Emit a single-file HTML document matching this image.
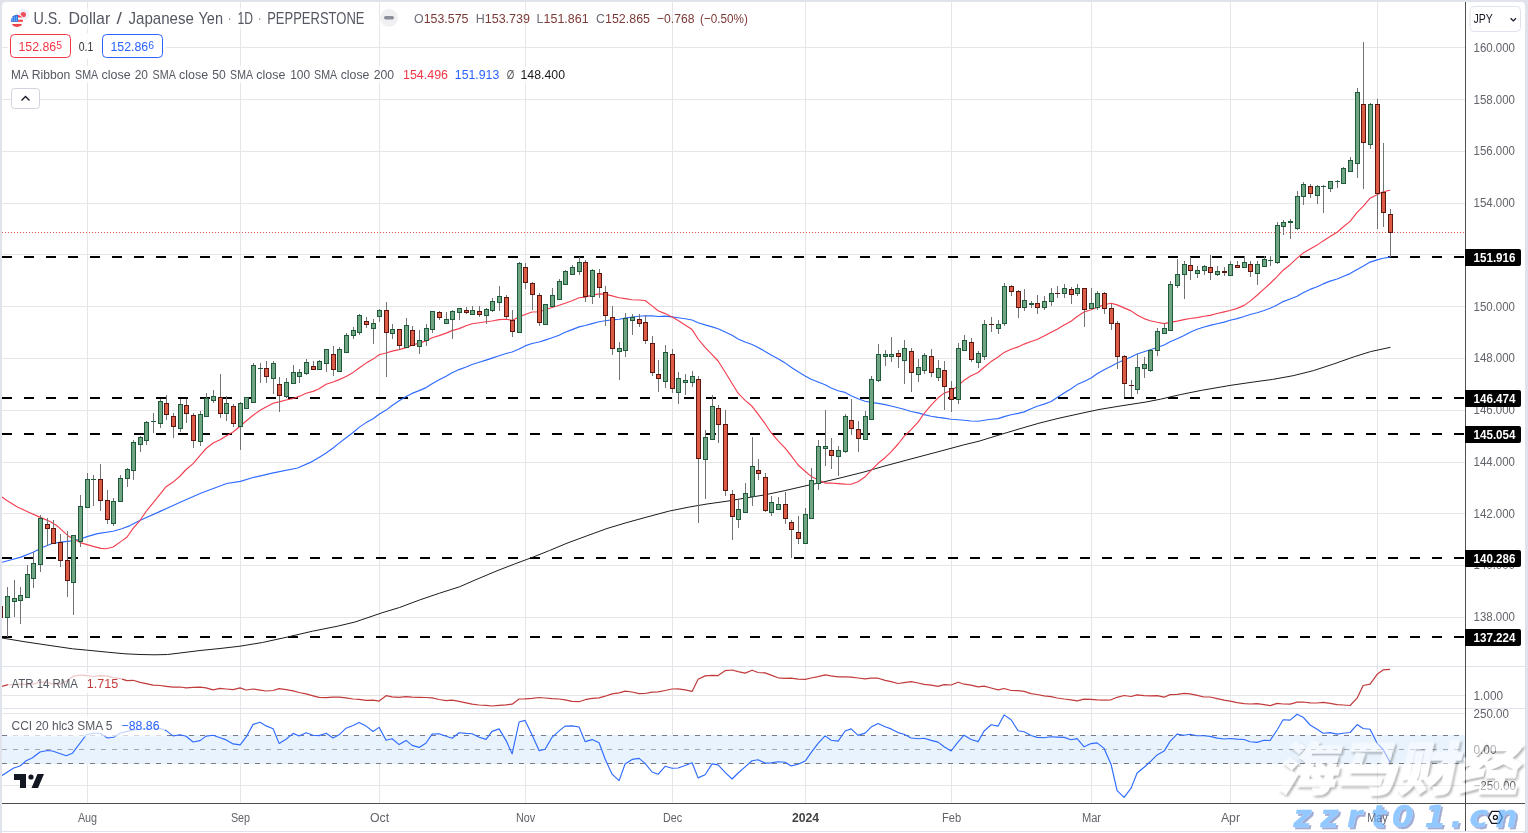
<!DOCTYPE html>
<html lang="en"><head><meta charset="utf-8"><title>USDJPY 1D chart</title>
<style>
html,body{margin:0;padding:0;background:#e0e3eb;}
body{width:1528px;height:833px;overflow:hidden;font-family:"Liberation Sans","Noto Sans CJK SC",sans-serif;}
svg{display:block;}
</style></head><body>
<svg width="1528" height="833" viewBox="0 0 1528 833" font-family="'Liberation Sans', sans-serif">
<defs><clipPath id="cp"><rect x="2" y="2" width="1463" height="801"/></clipPath><clipPath id="cm"><rect x="2" y="2" width="1463" height="664"/></clipPath><filter id="ws" x="-5%" y="-10%" width="115%" height="130%" color-interpolation-filters="sRGB"><feGaussianBlur in="SourceAlpha" stdDeviation="0.8"/><feOffset dx="1.7" dy="1.7" result="sh"/><feComposite in="sh" in2="SourceAlpha" operator="out" result="sho"/><feFlood flood-color="#303030" flood-opacity="0.36"/><feComposite in2="sho" operator="in" result="shc"/><feFlood flood-color="#fff" flood-opacity="0.5"/><feComposite in2="SourceAlpha" operator="in" result="fc"/><feMerge><feMergeNode in="shc"/><feMergeNode in="fc"/></feMerge></filter><filter id="ws2" x="-5%" y="-10%" width="115%" height="130%" color-interpolation-filters="sRGB"><feGaussianBlur in="SourceAlpha" stdDeviation="0.5"/><feOffset dx="1.6" dy="1.6" result="sh"/><feComposite in="sh" in2="SourceAlpha" operator="out" result="sho"/><feFlood flood-color="#5566b0" flood-opacity="0.55"/><feComposite in2="sho" operator="in" result="shc"/><feFlood flood-color="#5cadff" flood-opacity="0.68"/><feComposite in2="SourceAlpha" operator="in" result="fc"/><feMerge><feMergeNode in="shc"/><feMergeNode in="fc"/></feMerge></filter></defs>
<rect width="1528" height="833" fill="#e0e3eb"/>
<path d="M2 831V6a4 4 0 0 1 4 -4H1521a4 4 0 0 1 4 4V831z" fill="#fff"/>
<path d="M2 832h1520.5a2.5 2.5 0 0 0 2 1H2z" fill="#fff"/>
<g><rect x="87" y="2" width="1" height="801" fill="#e6e6e6"/><rect x="240" y="2" width="1" height="801" fill="#e6e6e6"/><rect x="379" y="2" width="1" height="801" fill="#e6e6e6"/><rect x="525" y="2" width="1" height="801" fill="#e6e6e6"/><rect x="672" y="2" width="1" height="801" fill="#e6e6e6"/><rect x="805" y="2" width="1" height="801" fill="#e6e6e6"/><rect x="951" y="2" width="1" height="801" fill="#e6e6e6"/><rect x="1091" y="2" width="1" height="801" fill="#e6e6e6"/><rect x="1230" y="2" width="1" height="801" fill="#e6e6e6"/><rect x="1377" y="2" width="1" height="801" fill="#e6e6e6"/><rect x="2" y="617" width="1463" height="1" fill="#e6e6e6"/><rect x="2" y="565" width="1463" height="1" fill="#e6e6e6"/><rect x="2" y="513" width="1463" height="1" fill="#e6e6e6"/><rect x="2" y="462" width="1463" height="1" fill="#e6e6e6"/><rect x="2" y="410" width="1463" height="1" fill="#e6e6e6"/><rect x="2" y="358" width="1463" height="1" fill="#e6e6e6"/><rect x="2" y="306" width="1463" height="1" fill="#e6e6e6"/><rect x="2" y="254" width="1463" height="1" fill="#e6e6e6"/><rect x="2" y="203" width="1463" height="1" fill="#e6e6e6"/><rect x="2" y="151" width="1463" height="1" fill="#e6e6e6"/><rect x="2" y="99" width="1463" height="1" fill="#e6e6e6"/><rect x="2" y="47" width="1463" height="1" fill="#e6e6e6"/><rect x="2" y="695" width="1463" height="1" fill="#e6e6e6"/><rect x="2" y="713" width="1463" height="1" fill="#e6e6e6"/><rect x="2" y="785" width="1463" height="1" fill="#e6e6e6"/></g>
<rect x="2" y="666" width="1523" height="1" fill="#e0e3eb"/>
<rect x="2" y="708" width="1523" height="1" fill="#e0e3eb"/>
<rect x="2" y="735" width="1463" height="29" fill="#e8f3fe"/>
<line x1="2" y1="735.5" x2="1465" y2="735.5" stroke="#787b86" stroke-width="1" stroke-dasharray="5 6" stroke-dashoffset="0"/>
<line x1="2" y1="749.5" x2="1465" y2="749.5" stroke="#a4a7af" stroke-width="1" stroke-dasharray="5 6" stroke-dashoffset="0"/>
<line x1="2" y1="763.5" x2="1465" y2="763.5" stroke="#787b86" stroke-width="1" stroke-dasharray="5 6" stroke-dashoffset="0"/>
<line x1="2" y1="257" x2="1465" y2="257" stroke="#000" stroke-width="2" stroke-dasharray="10 12"/>
<line x1="2" y1="398" x2="1465" y2="398" stroke="#000" stroke-width="2" stroke-dasharray="10 12"/>
<line x1="2" y1="434" x2="1465" y2="434" stroke="#000" stroke-width="2" stroke-dasharray="10 12"/>
<line x1="2" y1="558" x2="1465" y2="558" stroke="#000" stroke-width="2" stroke-dasharray="10 12"/>
<line x1="2" y1="637" x2="1465" y2="637" stroke="#000" stroke-width="2" stroke-dasharray="10 12"/>
<line x1="2" y1="232.5" x2="1465" y2="232.5" stroke="#e0574a" stroke-width="1" stroke-dasharray="1 2"/>
<polyline points="2.0,638.0 25.0,641.8 50.0,645.5 72.5,648.8 87.5,650.2 107.5,652.2 125.0,653.8 140.0,654.5 155.0,654.8 167.5,654.5 180.0,653.0 200.0,650.5 220.0,648.5 240.0,646.2 262.5,642.5 287.5,637.0 312.5,631.2 337.5,626.2 355.0,622.0 382.0,612.8 399.5,607.5 419.5,600.0 439.5,593.2 459.5,586.8 477.0,579.2 497.0,570.8 514.5,564.0 532.0,557.5 549.5,550.5 567.0,543.2 587.0,535.8 607.0,528.5 627.0,522.5 647.0,517.0 669.5,511.0 689.5,507.0 707.0,504.0 727.0,501.2 744.5,498.2 764.0,495.0 784.0,490.8 804.0,486.2 824.0,481.8 844.0,477.0 864.0,472.0 884.0,466.2 904.0,460.8 924.0,455.5 944.0,450.2 964.0,444.8 979.0,441.2 999.0,435.0 1019.0,429.0 1039.0,423.2 1059.0,418.2 1079.0,413.8 1099.0,409.5 1119.0,406.2 1146.0,402.0 1160.4,399.2 1180.8,394.5 1201.2,390.4 1230.8,385.3 1252.2,382.2 1272.7,379.4 1293.1,375.7 1313.5,370.6 1333.9,363.9 1354.3,356.7 1370.6,351.6 1390.5,347.3" fill="none" stroke="#1c1c1c" stroke-width="1.0" stroke-linejoin="round" stroke-linecap="butt" clip-path="url(#cm)" />
<polyline points="2.0,562.3 10.4,560.0 20.9,557.1 33.1,552.2 43.5,547.0 52.2,543.5 60.9,542.1 71.4,540.9 80.2,539.2 87.0,536.6 97.5,533.6 113.1,531.3 121.8,528.7 130.0,525.6 140.8,520.0 160.2,511.4 179.7,502.4 200.7,493.2 226.7,483.5 240.4,481.4 252.2,477.8 273.3,472.9 297.6,468.0 312.1,461.6 320.2,456.7 326.1,453.0 333.1,448.0 339.1,443.1 346.1,437.8 353.1,432.5 359.1,427.4 366.1,422.6 373.1,418.7 379.1,414.3 386.1,410.1 392.1,405.5 399.1,400.8 406.1,396.6 412.1,393.4 419.1,390.6 426.1,387.6 432.1,383.8 439.1,379.8 446.1,376.2 452.1,372.8 459.1,369.6 466.1,367.0 472.1,364.5 479.1,362.3 486.1,360.1 492.1,358.1 499.1,355.7 506.1,353.5 512.1,352.0 519.1,349.0 525.1,345.9 532.1,343.5 539.1,342.0 545.1,340.1 552.1,337.8 559.1,335.3 565.1,332.3 572.1,329.6 579.1,326.9 585.1,325.5 592.1,323.6 599.1,321.8 605.1,320.8 612.1,319.9 619.1,319.2 625.1,318.1 632.1,317.0 639.1,316.2 645.1,315.7 652.1,315.9 658.1,316.5 665.1,316.1 672.1,316.9 678.1,317.8 685.1,318.8 692.1,320.0 698.1,322.7 705.1,324.9 712.1,326.9 718.1,328.7 725.1,331.9 732.1,335.3 738.1,339.0 745.1,342.0 752.1,344.5 758.1,347.4 765.1,351.4 771.1,355.1 778.1,358.8 785.1,362.9 791.1,367.3 798.1,371.8 805.1,375.9 811.1,379.2 818.1,382.0 825.1,384.8 831.1,388.0 838.1,390.7 845.1,392.4 851.1,395.7 858.1,398.8 865.1,401.3 871.1,402.4 878.1,403.4 885.1,404.6 891.1,406.0 898.1,407.7 904.1,409.3 911.1,411.5 918.1,412.9 924.1,414.6 931.1,416.3 938.1,417.4 944.1,418.1 951.1,419.2 958.1,419.8 964.1,420.2 971.1,421.0 978.1,421.2 984.1,420.3 991.1,419.2 998.1,418.6 1004.1,416.6 1011.1,414.8 1018.1,413.4 1024.1,411.9 1031.1,408.8 1037.1,406.2 1044.1,404.1 1051.1,401.5 1057.1,397.5 1064.1,393.0 1071.1,388.7 1077.1,384.6 1084.1,381.4 1091.1,378.0 1097.1,373.7 1104.1,369.8 1111.1,366.2 1117.1,363.0 1124.1,360.0 1131.1,357.0 1137.1,354.0 1144.1,351.7 1150.1,349.8 1157.1,347.5 1164.1,345.0 1170.1,341.7 1177.1,338.8 1184.1,335.6 1190.1,332.2 1197.1,329.3 1204.1,327.0 1210.1,325.4 1217.1,323.7 1224.1,322.1 1230.1,320.3 1237.1,318.6 1244.1,316.5 1250.1,314.5 1257.1,312.7 1264.1,310.5 1270.1,308.3 1277.1,305.1 1283.1,301.6 1290.1,299.0 1297.1,296.2 1303.1,292.7 1310.1,289.4 1317.1,286.7 1323.1,283.9 1330.1,281.1 1337.1,279.0 1343.1,276.5 1350.1,273.6 1357.1,269.4 1363.1,266.2 1370.1,262.1 1377.1,259.9 1383.1,258.3 1390.1,257.1" fill="none" stroke="#2f6bff" stroke-width="1.15" stroke-linejoin="round" stroke-linecap="butt" clip-path="url(#cm)" />
<polyline points="2.0,497.0 6.1,500.0 17.4,507.0 28.7,512.2 40.4,517.4 50.5,521.8 57.4,526.1 67.9,535.7 80.2,542.6 92.3,546.1 101.0,548.4 106.2,548.7 113.1,547.0 121.8,540.9 127.1,537.0 133.1,528.3 140.1,520.3 146.1,511.5 153.1,502.8 160.1,494.2 166.1,486.7 173.1,482.1 180.1,476.0 186.1,469.5 193.1,463.6 200.1,455.3 206.1,448.5 213.1,443.0 220.1,439.7 226.1,435.9 233.1,432.0 240.1,426.2 246.1,421.0 253.1,415.3 260.1,410.3 266.1,407.0 273.1,403.3 279.1,401.9 286.1,400.0 293.1,398.5 299.1,396.4 306.1,393.2 313.1,391.4 319.1,388.8 326.1,384.3 333.1,382.0 339.1,379.6 346.1,376.5 353.1,372.4 359.1,368.0 366.1,363.1 373.1,359.1 379.1,354.7 386.1,353.0 392.1,351.1 399.1,349.6 406.1,347.6 412.1,345.1 419.1,343.1 426.1,340.9 432.1,337.8 439.1,335.6 446.1,333.1 452.1,330.6 459.1,328.6 466.1,325.7 472.1,323.8 479.1,322.7 486.1,321.7 492.1,321.0 499.1,319.6 506.1,319.2 512.1,320.3 519.1,316.9 525.1,314.5 532.1,312.0 539.1,311.8 545.1,309.8 552.1,307.5 559.1,305.2 565.1,303.2 572.1,300.7 579.1,297.8 585.1,297.1 592.1,295.1 599.1,293.9 605.1,294.1 612.1,295.9 619.1,297.8 625.1,298.6 632.1,299.7 639.1,300.0 645.1,300.5 652.1,305.9 658.1,310.7 665.1,313.6 672.1,316.9 678.1,320.6 685.1,324.9 692.1,329.6 698.1,339.0 705.1,347.4 712.1,354.6 718.1,361.0 725.1,372.0 732.1,383.5 738.1,393.2 745.1,400.4 752.1,406.3 758.1,414.1 765.1,423.7 771.1,432.7 778.1,440.9 785.1,448.1 791.1,455.7 798.1,465.0 805.1,471.3 811.1,476.4 818.1,479.7 825.1,483.1 831.1,483.0 838.1,483.6 845.1,484.1 851.1,484.3 858.1,481.7 865.1,476.8 871.1,470.3 878.1,463.3 885.1,457.7 891.1,451.8 898.1,444.0 904.1,436.4 911.1,429.7 918.1,422.2 924.1,413.5 931.1,405.1 938.1,397.8 944.1,393.1 951.1,390.8 958.1,385.9 964.1,380.2 971.1,375.7 978.1,372.5 984.1,367.3 991.1,361.6 998.1,357.0 1004.1,352.4 1011.1,349.2 1018.1,346.9 1024.1,344.1 1031.1,341.5 1037.1,339.5 1044.1,336.0 1051.1,332.3 1057.1,329.2 1064.1,325.0 1071.1,321.3 1077.1,316.5 1084.1,312.0 1091.1,309.7 1097.1,307.4 1104.1,304.8 1111.1,303.3 1117.1,304.9 1124.1,307.9 1131.1,310.9 1137.1,315.0 1144.1,318.6 1150.1,320.8 1157.1,322.3 1164.1,323.6 1170.1,322.4 1177.1,321.1 1184.1,319.6 1190.1,318.5 1197.1,317.6 1204.1,316.2 1210.1,315.4 1217.1,313.5 1224.1,311.9 1230.1,310.5 1237.1,308.4 1244.1,305.4 1250.1,301.1 1257.1,295.2 1264.1,288.9 1270.1,283.5 1277.1,276.6 1283.1,270.2 1290.1,264.7 1297.1,258.1 1303.1,253.1 1310.1,249.0 1317.1,245.1 1323.1,240.9 1330.1,236.5 1337.1,232.2 1343.1,227.0 1350.1,221.4 1357.1,212.4 1363.1,206.3 1370.1,198.2 1377.1,194.7 1383.1,191.8 1390.1,190.2" fill="none" stroke="#f23f50" stroke-width="1.15" stroke-linejoin="round" stroke-linecap="butt" clip-path="url(#cm)" />
<g clip-path="url(#cm)" shape-rendering="crispEdges"><rect x="0" y="606" width="1" height="12" fill="#737373"/><rect x="-2" y="606" width="5" height="12" fill="#5a1712"/><rect x="-1" y="607" width="3" height="10" fill="#dc5b45"/><rect x="7" y="587" width="1" height="50" fill="#737373"/><rect x="5" y="596" width="5" height="22" fill="#1f5a3a"/><rect x="6" y="597" width="3" height="20" fill="#6fa583"/><rect x="14" y="580" width="1" height="37" fill="#737373"/><rect x="12" y="598" width="5" height="4" fill="#1f5a3a"/><rect x="13" y="599" width="3" height="2" fill="#6fa583"/><rect x="20" y="587" width="1" height="37" fill="#737373"/><rect x="18" y="595" width="5" height="6" fill="#1f5a3a"/><rect x="19" y="596" width="3" height="4" fill="#6fa583"/><rect x="27" y="565" width="1" height="33" fill="#737373"/><rect x="25" y="574" width="5" height="24" fill="#1f5a3a"/><rect x="26" y="575" width="3" height="22" fill="#6fa583"/><rect x="33" y="552" width="1" height="36" fill="#737373"/><rect x="31" y="563" width="5" height="16" fill="#1f5a3a"/><rect x="32" y="564" width="3" height="14" fill="#6fa583"/><rect x="40" y="515" width="1" height="57" fill="#737373"/><rect x="38" y="518" width="5" height="47" fill="#1f5a3a"/><rect x="39" y="519" width="3" height="45" fill="#6fa583"/><rect x="47" y="518" width="1" height="28" fill="#737373"/><rect x="45" y="524" width="5" height="5" fill="#5a1712"/><rect x="46" y="525" width="3" height="3" fill="#dc5b45"/><rect x="53" y="520" width="1" height="24" fill="#737373"/><rect x="51" y="528" width="5" height="16" fill="#5a1712"/><rect x="52" y="529" width="3" height="14" fill="#dc5b45"/><rect x="60" y="534" width="1" height="33" fill="#737373"/><rect x="58" y="542" width="5" height="19" fill="#5a1712"/><rect x="59" y="543" width="3" height="17" fill="#dc5b45"/><rect x="67" y="531" width="1" height="66" fill="#737373"/><rect x="65" y="560" width="5" height="21" fill="#5a1712"/><rect x="66" y="561" width="3" height="19" fill="#dc5b45"/><rect x="73" y="535" width="1" height="80" fill="#737373"/><rect x="71" y="535" width="5" height="48" fill="#1f5a3a"/><rect x="72" y="536" width="3" height="46" fill="#6fa583"/><rect x="80" y="495" width="1" height="52" fill="#737373"/><rect x="78" y="506" width="5" height="36" fill="#1f5a3a"/><rect x="79" y="507" width="3" height="34" fill="#6fa583"/><rect x="87" y="473" width="1" height="35" fill="#737373"/><rect x="85" y="479" width="5" height="29" fill="#1f5a3a"/><rect x="86" y="480" width="3" height="27" fill="#6fa583"/><rect x="93" y="475" width="1" height="31" fill="#737373"/><rect x="91" y="479" width="5" height="1" fill="#1f5a3a"/><rect x="100" y="464" width="1" height="47" fill="#737373"/><rect x="98" y="479" width="5" height="22" fill="#5a1712"/><rect x="99" y="480" width="3" height="20" fill="#dc5b45"/><rect x="107" y="490" width="1" height="34" fill="#737373"/><rect x="105" y="500" width="5" height="20" fill="#5a1712"/><rect x="106" y="501" width="3" height="18" fill="#dc5b45"/><rect x="113" y="498" width="1" height="28" fill="#737373"/><rect x="111" y="501" width="5" height="23" fill="#1f5a3a"/><rect x="112" y="502" width="3" height="21" fill="#6fa583"/><rect x="120" y="475" width="1" height="27" fill="#737373"/><rect x="118" y="478" width="5" height="24" fill="#1f5a3a"/><rect x="119" y="479" width="3" height="22" fill="#6fa583"/><rect x="127" y="468" width="1" height="19" fill="#737373"/><rect x="125" y="469" width="5" height="10" fill="#1f5a3a"/><rect x="126" y="470" width="3" height="8" fill="#6fa583"/><rect x="133" y="440" width="1" height="40" fill="#737373"/><rect x="131" y="442" width="5" height="29" fill="#1f5a3a"/><rect x="132" y="443" width="3" height="27" fill="#6fa583"/><rect x="140" y="436" width="1" height="16" fill="#737373"/><rect x="138" y="437" width="5" height="8" fill="#1f5a3a"/><rect x="139" y="438" width="3" height="6" fill="#6fa583"/><rect x="146" y="421" width="1" height="24" fill="#737373"/><rect x="144" y="422" width="5" height="19" fill="#1f5a3a"/><rect x="145" y="423" width="3" height="17" fill="#6fa583"/><rect x="153" y="413" width="1" height="20" fill="#737373"/><rect x="151" y="421" width="5" height="1" fill="#1f5a3a"/><rect x="160" y="399" width="1" height="29" fill="#737373"/><rect x="158" y="401" width="5" height="23" fill="#1f5a3a"/><rect x="159" y="402" width="3" height="21" fill="#6fa583"/><rect x="166" y="395" width="1" height="25" fill="#737373"/><rect x="164" y="403" width="5" height="12" fill="#5a1712"/><rect x="165" y="404" width="3" height="10" fill="#dc5b45"/><rect x="173" y="413" width="1" height="25" fill="#737373"/><rect x="171" y="416" width="5" height="11" fill="#5a1712"/><rect x="172" y="417" width="3" height="9" fill="#dc5b45"/><rect x="180" y="399" width="1" height="33" fill="#737373"/><rect x="178" y="404" width="5" height="25" fill="#1f5a3a"/><rect x="179" y="405" width="3" height="23" fill="#6fa583"/><rect x="186" y="399" width="1" height="24" fill="#737373"/><rect x="184" y="405" width="5" height="9" fill="#5a1712"/><rect x="185" y="406" width="3" height="7" fill="#dc5b45"/><rect x="193" y="413" width="1" height="35" fill="#737373"/><rect x="191" y="415" width="5" height="26" fill="#5a1712"/><rect x="192" y="416" width="3" height="24" fill="#dc5b45"/><rect x="200" y="411" width="1" height="35" fill="#737373"/><rect x="198" y="414" width="5" height="28" fill="#1f5a3a"/><rect x="199" y="415" width="3" height="26" fill="#6fa583"/><rect x="206" y="393" width="1" height="24" fill="#737373"/><rect x="204" y="398" width="5" height="19" fill="#1f5a3a"/><rect x="205" y="399" width="3" height="17" fill="#6fa583"/><rect x="213" y="390" width="1" height="13" fill="#737373"/><rect x="211" y="396" width="5" height="5" fill="#1f5a3a"/><rect x="212" y="397" width="3" height="3" fill="#6fa583"/><rect x="220" y="374" width="1" height="44" fill="#737373"/><rect x="218" y="397" width="5" height="17" fill="#5a1712"/><rect x="219" y="398" width="3" height="15" fill="#dc5b45"/><rect x="226" y="396" width="1" height="25" fill="#737373"/><rect x="224" y="403" width="5" height="11" fill="#1f5a3a"/><rect x="225" y="404" width="3" height="9" fill="#6fa583"/><rect x="233" y="404" width="1" height="23" fill="#737373"/><rect x="231" y="406" width="5" height="18" fill="#5a1712"/><rect x="232" y="407" width="3" height="16" fill="#dc5b45"/><rect x="240" y="402" width="1" height="48" fill="#737373"/><rect x="238" y="403" width="5" height="24" fill="#1f5a3a"/><rect x="239" y="404" width="3" height="22" fill="#6fa583"/><rect x="246" y="397" width="1" height="12" fill="#737373"/><rect x="244" y="397" width="5" height="12" fill="#1f5a3a"/><rect x="245" y="398" width="3" height="10" fill="#6fa583"/><rect x="253" y="363" width="1" height="40" fill="#737373"/><rect x="251" y="365" width="5" height="38" fill="#1f5a3a"/><rect x="252" y="366" width="3" height="36" fill="#6fa583"/><rect x="260" y="363" width="1" height="20" fill="#737373"/><rect x="258" y="368" width="5" height="1" fill="#1f5a3a"/><rect x="266" y="361" width="1" height="22" fill="#737373"/><rect x="264" y="368" width="5" height="9" fill="#5a1712"/><rect x="265" y="369" width="3" height="7" fill="#dc5b45"/><rect x="273" y="361" width="1" height="33" fill="#737373"/><rect x="271" y="363" width="5" height="16" fill="#1f5a3a"/><rect x="272" y="364" width="3" height="14" fill="#6fa583"/><rect x="279" y="377" width="1" height="35" fill="#737373"/><rect x="277" y="384" width="5" height="12" fill="#5a1712"/><rect x="278" y="385" width="3" height="10" fill="#dc5b45"/><rect x="286" y="378" width="1" height="20" fill="#737373"/><rect x="284" y="382" width="5" height="15" fill="#1f5a3a"/><rect x="285" y="383" width="3" height="13" fill="#6fa583"/><rect x="293" y="365" width="1" height="19" fill="#737373"/><rect x="291" y="372" width="5" height="12" fill="#1f5a3a"/><rect x="292" y="373" width="3" height="10" fill="#6fa583"/><rect x="299" y="369" width="1" height="14" fill="#737373"/><rect x="297" y="372" width="5" height="5" fill="#1f5a3a"/><rect x="298" y="373" width="3" height="3" fill="#6fa583"/><rect x="306" y="359" width="1" height="16" fill="#737373"/><rect x="304" y="362" width="5" height="12" fill="#1f5a3a"/><rect x="305" y="363" width="3" height="10" fill="#6fa583"/><rect x="313" y="361" width="1" height="9" fill="#737373"/><rect x="311" y="366" width="5" height="4" fill="#5a1712"/><rect x="312" y="367" width="3" height="2" fill="#dc5b45"/><rect x="319" y="360" width="1" height="10" fill="#737373"/><rect x="317" y="361" width="5" height="9" fill="#1f5a3a"/><rect x="318" y="362" width="3" height="7" fill="#6fa583"/><rect x="326" y="349" width="1" height="23" fill="#737373"/><rect x="324" y="349" width="5" height="15" fill="#1f5a3a"/><rect x="325" y="350" width="3" height="13" fill="#6fa583"/><rect x="333" y="346" width="1" height="30" fill="#737373"/><rect x="331" y="354" width="5" height="16" fill="#5a1712"/><rect x="332" y="355" width="3" height="14" fill="#dc5b45"/><rect x="339" y="347" width="1" height="25" fill="#737373"/><rect x="337" y="349" width="5" height="23" fill="#1f5a3a"/><rect x="338" y="350" width="3" height="21" fill="#6fa583"/><rect x="346" y="333" width="1" height="20" fill="#737373"/><rect x="344" y="335" width="5" height="18" fill="#1f5a3a"/><rect x="345" y="336" width="3" height="16" fill="#6fa583"/><rect x="353" y="327" width="1" height="12" fill="#737373"/><rect x="351" y="330" width="5" height="6" fill="#1f5a3a"/><rect x="352" y="331" width="3" height="4" fill="#6fa583"/><rect x="359" y="314" width="1" height="21" fill="#737373"/><rect x="357" y="315" width="5" height="18" fill="#1f5a3a"/><rect x="358" y="316" width="3" height="16" fill="#6fa583"/><rect x="366" y="317" width="1" height="11" fill="#737373"/><rect x="364" y="321" width="5" height="4" fill="#5a1712"/><rect x="365" y="322" width="3" height="2" fill="#dc5b45"/><rect x="373" y="319" width="1" height="25" fill="#737373"/><rect x="371" y="323" width="5" height="6" fill="#1f5a3a"/><rect x="372" y="324" width="3" height="4" fill="#6fa583"/><rect x="379" y="309" width="1" height="13" fill="#737373"/><rect x="377" y="310" width="5" height="7" fill="#1f5a3a"/><rect x="378" y="311" width="3" height="5" fill="#6fa583"/><rect x="386" y="302" width="1" height="75" fill="#737373"/><rect x="384" y="310" width="5" height="23" fill="#5a1712"/><rect x="385" y="311" width="3" height="21" fill="#dc5b45"/><rect x="392" y="324" width="1" height="15" fill="#737373"/><rect x="390" y="329" width="5" height="5" fill="#1f5a3a"/><rect x="391" y="330" width="3" height="3" fill="#6fa583"/><rect x="399" y="329" width="1" height="21" fill="#737373"/><rect x="397" y="329" width="5" height="17" fill="#5a1712"/><rect x="398" y="330" width="3" height="15" fill="#dc5b45"/><rect x="406" y="318" width="1" height="30" fill="#737373"/><rect x="404" y="325" width="5" height="23" fill="#1f5a3a"/><rect x="405" y="326" width="3" height="21" fill="#6fa583"/><rect x="412" y="326" width="1" height="20" fill="#737373"/><rect x="410" y="330" width="5" height="16" fill="#5a1712"/><rect x="411" y="331" width="3" height="14" fill="#dc5b45"/><rect x="419" y="330" width="1" height="24" fill="#737373"/><rect x="417" y="340" width="5" height="7" fill="#1f5a3a"/><rect x="418" y="341" width="3" height="5" fill="#6fa583"/><rect x="426" y="324" width="1" height="22" fill="#737373"/><rect x="424" y="328" width="5" height="13" fill="#1f5a3a"/><rect x="425" y="329" width="3" height="11" fill="#6fa583"/><rect x="432" y="311" width="1" height="22" fill="#737373"/><rect x="430" y="311" width="5" height="19" fill="#1f5a3a"/><rect x="431" y="312" width="3" height="17" fill="#6fa583"/><rect x="439" y="311" width="1" height="9" fill="#737373"/><rect x="437" y="312" width="5" height="6" fill="#5a1712"/><rect x="438" y="313" width="3" height="4" fill="#dc5b45"/><rect x="446" y="312" width="1" height="12" fill="#737373"/><rect x="444" y="319" width="5" height="5" fill="#1f5a3a"/><rect x="445" y="320" width="3" height="3" fill="#6fa583"/><rect x="452" y="310" width="1" height="29" fill="#737373"/><rect x="450" y="311" width="5" height="9" fill="#1f5a3a"/><rect x="451" y="312" width="3" height="7" fill="#6fa583"/><rect x="459" y="308" width="1" height="12" fill="#737373"/><rect x="457" y="308" width="5" height="5" fill="#1f5a3a"/><rect x="458" y="309" width="3" height="3" fill="#6fa583"/><rect x="466" y="307" width="1" height="7" fill="#737373"/><rect x="464" y="310" width="5" height="3" fill="#5a1712"/><rect x="465" y="311" width="3" height="1" fill="#dc5b45"/><rect x="472" y="306" width="1" height="9" fill="#737373"/><rect x="470" y="310" width="5" height="5" fill="#1f5a3a"/><rect x="471" y="311" width="3" height="3" fill="#6fa583"/><rect x="479" y="306" width="1" height="11" fill="#737373"/><rect x="477" y="311" width="5" height="4" fill="#5a1712"/><rect x="478" y="312" width="3" height="2" fill="#dc5b45"/><rect x="486" y="308" width="1" height="16" fill="#737373"/><rect x="484" y="309" width="5" height="7" fill="#1f5a3a"/><rect x="485" y="310" width="3" height="5" fill="#6fa583"/><rect x="492" y="298" width="1" height="14" fill="#737373"/><rect x="490" y="301" width="5" height="10" fill="#1f5a3a"/><rect x="491" y="302" width="3" height="8" fill="#6fa583"/><rect x="499" y="286" width="1" height="25" fill="#737373"/><rect x="497" y="296" width="5" height="7" fill="#1f5a3a"/><rect x="498" y="297" width="3" height="5" fill="#6fa583"/><rect x="506" y="295" width="1" height="24" fill="#737373"/><rect x="504" y="297" width="5" height="20" fill="#5a1712"/><rect x="505" y="298" width="3" height="18" fill="#dc5b45"/><rect x="512" y="310" width="1" height="27" fill="#737373"/><rect x="510" y="320" width="5" height="12" fill="#5a1712"/><rect x="511" y="321" width="3" height="10" fill="#dc5b45"/><rect x="519" y="262" width="1" height="71" fill="#737373"/><rect x="517" y="263" width="5" height="70" fill="#1f5a3a"/><rect x="518" y="264" width="3" height="68" fill="#6fa583"/><rect x="525" y="263" width="1" height="26" fill="#737373"/><rect x="523" y="267" width="5" height="16" fill="#5a1712"/><rect x="524" y="268" width="3" height="14" fill="#dc5b45"/><rect x="532" y="282" width="1" height="28" fill="#737373"/><rect x="530" y="283" width="5" height="12" fill="#5a1712"/><rect x="531" y="284" width="3" height="10" fill="#dc5b45"/><rect x="539" y="293" width="1" height="33" fill="#737373"/><rect x="537" y="295" width="5" height="28" fill="#5a1712"/><rect x="538" y="296" width="3" height="26" fill="#dc5b45"/><rect x="545" y="304" width="1" height="21" fill="#737373"/><rect x="543" y="304" width="5" height="21" fill="#1f5a3a"/><rect x="544" y="305" width="3" height="19" fill="#6fa583"/><rect x="552" y="288" width="1" height="19" fill="#737373"/><rect x="550" y="295" width="5" height="12" fill="#1f5a3a"/><rect x="551" y="296" width="3" height="10" fill="#6fa583"/><rect x="559" y="279" width="1" height="21" fill="#737373"/><rect x="557" y="281" width="5" height="19" fill="#1f5a3a"/><rect x="558" y="282" width="3" height="17" fill="#6fa583"/><rect x="565" y="270" width="1" height="15" fill="#737373"/><rect x="563" y="271" width="5" height="14" fill="#1f5a3a"/><rect x="564" y="272" width="3" height="12" fill="#6fa583"/><rect x="572" y="265" width="1" height="10" fill="#737373"/><rect x="570" y="267" width="5" height="8" fill="#1f5a3a"/><rect x="571" y="268" width="3" height="6" fill="#6fa583"/><rect x="579" y="257" width="1" height="18" fill="#737373"/><rect x="577" y="262" width="5" height="10" fill="#1f5a3a"/><rect x="578" y="263" width="3" height="8" fill="#6fa583"/><rect x="585" y="260" width="1" height="42" fill="#737373"/><rect x="583" y="262" width="5" height="35" fill="#5a1712"/><rect x="584" y="263" width="3" height="33" fill="#dc5b45"/><rect x="592" y="269" width="1" height="35" fill="#737373"/><rect x="590" y="270" width="5" height="27" fill="#1f5a3a"/><rect x="591" y="271" width="3" height="25" fill="#6fa583"/><rect x="599" y="269" width="1" height="29" fill="#737373"/><rect x="597" y="273" width="5" height="15" fill="#5a1712"/><rect x="598" y="274" width="3" height="13" fill="#dc5b45"/><rect x="605" y="286" width="1" height="40" fill="#737373"/><rect x="603" y="292" width="5" height="24" fill="#5a1712"/><rect x="604" y="293" width="3" height="22" fill="#dc5b45"/><rect x="612" y="306" width="1" height="49" fill="#737373"/><rect x="610" y="317" width="5" height="32" fill="#5a1712"/><rect x="611" y="318" width="3" height="30" fill="#dc5b45"/><rect x="619" y="342" width="1" height="38" fill="#737373"/><rect x="617" y="348" width="5" height="4" fill="#1f5a3a"/><rect x="618" y="349" width="3" height="2" fill="#6fa583"/><rect x="625" y="313" width="1" height="44" fill="#737373"/><rect x="623" y="318" width="5" height="33" fill="#1f5a3a"/><rect x="624" y="319" width="3" height="31" fill="#6fa583"/><rect x="632" y="314" width="1" height="21" fill="#737373"/><rect x="630" y="317" width="5" height="4" fill="#1f5a3a"/><rect x="631" y="318" width="3" height="2" fill="#6fa583"/><rect x="639" y="314" width="1" height="13" fill="#737373"/><rect x="637" y="319" width="5" height="5" fill="#5a1712"/><rect x="638" y="320" width="3" height="3" fill="#dc5b45"/><rect x="645" y="315" width="1" height="29" fill="#737373"/><rect x="643" y="322" width="5" height="19" fill="#5a1712"/><rect x="644" y="323" width="3" height="17" fill="#dc5b45"/><rect x="652" y="336" width="1" height="40" fill="#737373"/><rect x="650" y="343" width="5" height="30" fill="#5a1712"/><rect x="651" y="344" width="3" height="28" fill="#dc5b45"/><rect x="658" y="360" width="1" height="32" fill="#737373"/><rect x="656" y="374" width="5" height="5" fill="#5a1712"/><rect x="657" y="375" width="3" height="3" fill="#dc5b45"/><rect x="665" y="345" width="1" height="43" fill="#737373"/><rect x="663" y="352" width="5" height="30" fill="#1f5a3a"/><rect x="664" y="353" width="3" height="28" fill="#6fa583"/><rect x="672" y="349" width="1" height="44" fill="#737373"/><rect x="670" y="354" width="5" height="35" fill="#5a1712"/><rect x="671" y="355" width="3" height="33" fill="#dc5b45"/><rect x="678" y="372" width="1" height="32" fill="#737373"/><rect x="676" y="378" width="5" height="15" fill="#1f5a3a"/><rect x="677" y="379" width="3" height="13" fill="#6fa583"/><rect x="685" y="374" width="1" height="21" fill="#737373"/><rect x="683" y="380" width="5" height="3" fill="#1f5a3a"/><rect x="684" y="381" width="3" height="1" fill="#6fa583"/><rect x="692" y="371" width="1" height="16" fill="#737373"/><rect x="690" y="376" width="5" height="7" fill="#1f5a3a"/><rect x="691" y="377" width="3" height="5" fill="#6fa583"/><rect x="698" y="376" width="1" height="147" fill="#737373"/><rect x="696" y="379" width="5" height="80" fill="#5a1712"/><rect x="697" y="380" width="3" height="78" fill="#dc5b45"/><rect x="705" y="430" width="1" height="69" fill="#737373"/><rect x="703" y="437" width="5" height="23" fill="#1f5a3a"/><rect x="704" y="438" width="3" height="21" fill="#6fa583"/><rect x="712" y="395" width="1" height="45" fill="#737373"/><rect x="710" y="406" width="5" height="34" fill="#1f5a3a"/><rect x="711" y="407" width="3" height="32" fill="#6fa583"/><rect x="718" y="405" width="1" height="38" fill="#737373"/><rect x="716" y="408" width="5" height="17" fill="#5a1712"/><rect x="717" y="409" width="3" height="15" fill="#dc5b45"/><rect x="725" y="410" width="1" height="86" fill="#737373"/><rect x="723" y="424" width="5" height="67" fill="#5a1712"/><rect x="724" y="425" width="3" height="65" fill="#dc5b45"/><rect x="732" y="490" width="1" height="50" fill="#737373"/><rect x="730" y="494" width="5" height="23" fill="#5a1712"/><rect x="731" y="495" width="3" height="21" fill="#dc5b45"/><rect x="738" y="500" width="1" height="28" fill="#737373"/><rect x="736" y="509" width="5" height="11" fill="#1f5a3a"/><rect x="737" y="510" width="3" height="9" fill="#6fa583"/><rect x="745" y="483" width="1" height="30" fill="#737373"/><rect x="743" y="493" width="5" height="20" fill="#1f5a3a"/><rect x="744" y="494" width="3" height="18" fill="#6fa583"/><rect x="752" y="437" width="1" height="69" fill="#737373"/><rect x="750" y="466" width="5" height="31" fill="#1f5a3a"/><rect x="751" y="467" width="3" height="29" fill="#6fa583"/><rect x="758" y="459" width="1" height="21" fill="#737373"/><rect x="756" y="470" width="5" height="4" fill="#5a1712"/><rect x="757" y="471" width="3" height="2" fill="#dc5b45"/><rect x="765" y="473" width="1" height="39" fill="#737373"/><rect x="763" y="477" width="5" height="34" fill="#5a1712"/><rect x="764" y="478" width="3" height="32" fill="#dc5b45"/><rect x="771" y="496" width="1" height="20" fill="#737373"/><rect x="769" y="502" width="5" height="11" fill="#1f5a3a"/><rect x="770" y="503" width="3" height="9" fill="#6fa583"/><rect x="778" y="497" width="1" height="13" fill="#737373"/><rect x="776" y="504" width="5" height="6" fill="#1f5a3a"/><rect x="777" y="505" width="3" height="4" fill="#6fa583"/><rect x="785" y="492" width="1" height="32" fill="#737373"/><rect x="783" y="504" width="5" height="15" fill="#5a1712"/><rect x="784" y="505" width="3" height="13" fill="#dc5b45"/><rect x="791" y="520" width="1" height="38" fill="#737373"/><rect x="789" y="522" width="5" height="8" fill="#5a1712"/><rect x="790" y="523" width="3" height="6" fill="#dc5b45"/><rect x="798" y="516" width="1" height="28" fill="#737373"/><rect x="796" y="532" width="5" height="7" fill="#5a1712"/><rect x="797" y="533" width="3" height="5" fill="#dc5b45"/><rect x="805" y="508" width="1" height="36" fill="#737373"/><rect x="803" y="514" width="5" height="30" fill="#1f5a3a"/><rect x="804" y="515" width="3" height="28" fill="#6fa583"/><rect x="811" y="468" width="1" height="51" fill="#737373"/><rect x="809" y="480" width="5" height="39" fill="#1f5a3a"/><rect x="810" y="481" width="3" height="37" fill="#6fa583"/><rect x="818" y="440" width="1" height="50" fill="#737373"/><rect x="816" y="446" width="5" height="38" fill="#1f5a3a"/><rect x="817" y="447" width="3" height="36" fill="#6fa583"/><rect x="825" y="410" width="1" height="56" fill="#737373"/><rect x="823" y="446" width="5" height="3" fill="#1f5a3a"/><rect x="824" y="447" width="3" height="1" fill="#6fa583"/><rect x="831" y="438" width="1" height="31" fill="#737373"/><rect x="829" y="450" width="5" height="6" fill="#5a1712"/><rect x="830" y="451" width="3" height="4" fill="#dc5b45"/><rect x="838" y="446" width="1" height="30" fill="#737373"/><rect x="836" y="450" width="5" height="7" fill="#1f5a3a"/><rect x="837" y="451" width="3" height="5" fill="#6fa583"/><rect x="845" y="414" width="1" height="39" fill="#737373"/><rect x="843" y="416" width="5" height="36" fill="#1f5a3a"/><rect x="844" y="417" width="3" height="34" fill="#6fa583"/><rect x="851" y="399" width="1" height="36" fill="#737373"/><rect x="849" y="420" width="5" height="9" fill="#5a1712"/><rect x="850" y="421" width="3" height="7" fill="#dc5b45"/><rect x="858" y="421" width="1" height="31" fill="#737373"/><rect x="856" y="429" width="5" height="10" fill="#5a1712"/><rect x="857" y="430" width="3" height="8" fill="#dc5b45"/><rect x="865" y="411" width="1" height="29" fill="#737373"/><rect x="863" y="416" width="5" height="24" fill="#1f5a3a"/><rect x="864" y="417" width="3" height="22" fill="#6fa583"/><rect x="871" y="376" width="1" height="44" fill="#737373"/><rect x="869" y="379" width="5" height="41" fill="#1f5a3a"/><rect x="870" y="380" width="3" height="39" fill="#6fa583"/><rect x="878" y="344" width="1" height="38" fill="#737373"/><rect x="876" y="354" width="5" height="27" fill="#1f5a3a"/><rect x="877" y="355" width="3" height="25" fill="#6fa583"/><rect x="885" y="350" width="1" height="16" fill="#737373"/><rect x="883" y="354" width="5" height="3" fill="#1f5a3a"/><rect x="884" y="355" width="3" height="1" fill="#6fa583"/><rect x="891" y="337" width="1" height="25" fill="#737373"/><rect x="889" y="354" width="5" height="3" fill="#1f5a3a"/><rect x="890" y="355" width="3" height="1" fill="#6fa583"/><rect x="898" y="350" width="1" height="18" fill="#737373"/><rect x="896" y="353" width="5" height="4" fill="#5a1712"/><rect x="897" y="354" width="3" height="2" fill="#dc5b45"/><rect x="904" y="340" width="1" height="44" fill="#737373"/><rect x="902" y="348" width="5" height="13" fill="#1f5a3a"/><rect x="903" y="349" width="3" height="11" fill="#6fa583"/><rect x="911" y="348" width="1" height="44" fill="#737373"/><rect x="909" y="351" width="5" height="22" fill="#5a1712"/><rect x="910" y="352" width="3" height="20" fill="#dc5b45"/><rect x="918" y="359" width="1" height="23" fill="#737373"/><rect x="916" y="367" width="5" height="8" fill="#1f5a3a"/><rect x="917" y="368" width="3" height="6" fill="#6fa583"/><rect x="924" y="353" width="1" height="21" fill="#737373"/><rect x="922" y="355" width="5" height="16" fill="#1f5a3a"/><rect x="923" y="356" width="3" height="14" fill="#6fa583"/><rect x="931" y="349" width="1" height="28" fill="#737373"/><rect x="929" y="356" width="5" height="17" fill="#5a1712"/><rect x="930" y="357" width="3" height="15" fill="#dc5b45"/><rect x="938" y="360" width="1" height="21" fill="#737373"/><rect x="936" y="368" width="5" height="10" fill="#1f5a3a"/><rect x="937" y="369" width="3" height="8" fill="#6fa583"/><rect x="944" y="361" width="1" height="49" fill="#737373"/><rect x="942" y="370" width="5" height="17" fill="#5a1712"/><rect x="943" y="371" width="3" height="15" fill="#dc5b45"/><rect x="951" y="381" width="1" height="31" fill="#737373"/><rect x="949" y="388" width="5" height="12" fill="#5a1712"/><rect x="950" y="389" width="3" height="10" fill="#dc5b45"/><rect x="958" y="343" width="1" height="61" fill="#737373"/><rect x="956" y="348" width="5" height="52" fill="#1f5a3a"/><rect x="957" y="349" width="3" height="50" fill="#6fa583"/><rect x="964" y="335" width="1" height="16" fill="#737373"/><rect x="962" y="340" width="5" height="11" fill="#1f5a3a"/><rect x="963" y="341" width="3" height="9" fill="#6fa583"/><rect x="971" y="338" width="1" height="24" fill="#737373"/><rect x="969" y="342" width="5" height="18" fill="#5a1712"/><rect x="970" y="343" width="3" height="16" fill="#dc5b45"/><rect x="978" y="351" width="1" height="17" fill="#737373"/><rect x="976" y="353" width="5" height="10" fill="#1f5a3a"/><rect x="977" y="354" width="3" height="8" fill="#6fa583"/><rect x="984" y="320" width="1" height="40" fill="#737373"/><rect x="982" y="324" width="5" height="33" fill="#1f5a3a"/><rect x="983" y="325" width="3" height="31" fill="#6fa583"/><rect x="991" y="317" width="1" height="15" fill="#737373"/><rect x="989" y="324" width="5" height="1" fill="#5a1712"/><rect x="998" y="320" width="1" height="14" fill="#737373"/><rect x="996" y="324" width="5" height="5" fill="#1f5a3a"/><rect x="997" y="325" width="3" height="3" fill="#6fa583"/><rect x="1004" y="283" width="1" height="43" fill="#737373"/><rect x="1002" y="286" width="5" height="38" fill="#1f5a3a"/><rect x="1003" y="287" width="3" height="36" fill="#6fa583"/><rect x="1011" y="285" width="1" height="11" fill="#737373"/><rect x="1009" y="286" width="5" height="6" fill="#5a1712"/><rect x="1010" y="287" width="3" height="4" fill="#dc5b45"/><rect x="1018" y="290" width="1" height="28" fill="#737373"/><rect x="1016" y="291" width="5" height="17" fill="#5a1712"/><rect x="1017" y="292" width="3" height="15" fill="#dc5b45"/><rect x="1024" y="289" width="1" height="22" fill="#737373"/><rect x="1022" y="300" width="5" height="8" fill="#1f5a3a"/><rect x="1023" y="301" width="3" height="6" fill="#6fa583"/><rect x="1031" y="301" width="1" height="7" fill="#737373"/><rect x="1029" y="303" width="5" height="2" fill="#1f5a3a"/><rect x="1037" y="295" width="1" height="19" fill="#737373"/><rect x="1035" y="303" width="5" height="5" fill="#5a1712"/><rect x="1036" y="304" width="3" height="3" fill="#dc5b45"/><rect x="1044" y="296" width="1" height="14" fill="#737373"/><rect x="1042" y="301" width="5" height="7" fill="#1f5a3a"/><rect x="1043" y="302" width="3" height="5" fill="#6fa583"/><rect x="1051" y="288" width="1" height="18" fill="#737373"/><rect x="1049" y="293" width="5" height="9" fill="#1f5a3a"/><rect x="1050" y="294" width="3" height="7" fill="#6fa583"/><rect x="1057" y="286" width="1" height="12" fill="#737373"/><rect x="1055" y="293" width="5" height="1" fill="#5a1712"/><rect x="1064" y="284" width="1" height="14" fill="#737373"/><rect x="1062" y="288" width="5" height="6" fill="#1f5a3a"/><rect x="1063" y="289" width="3" height="4" fill="#6fa583"/><rect x="1071" y="287" width="1" height="17" fill="#737373"/><rect x="1069" y="289" width="5" height="6" fill="#5a1712"/><rect x="1070" y="290" width="3" height="4" fill="#dc5b45"/><rect x="1077" y="284" width="1" height="12" fill="#737373"/><rect x="1075" y="288" width="5" height="6" fill="#1f5a3a"/><rect x="1076" y="289" width="3" height="4" fill="#6fa583"/><rect x="1084" y="288" width="1" height="39" fill="#737373"/><rect x="1082" y="288" width="5" height="22" fill="#5a1712"/><rect x="1083" y="289" width="3" height="20" fill="#dc5b45"/><rect x="1091" y="288" width="1" height="21" fill="#737373"/><rect x="1089" y="303" width="5" height="6" fill="#1f5a3a"/><rect x="1090" y="304" width="3" height="4" fill="#6fa583"/><rect x="1097" y="291" width="1" height="19" fill="#737373"/><rect x="1095" y="293" width="5" height="15" fill="#1f5a3a"/><rect x="1096" y="294" width="3" height="13" fill="#6fa583"/><rect x="1104" y="292" width="1" height="22" fill="#737373"/><rect x="1102" y="293" width="5" height="16" fill="#5a1712"/><rect x="1103" y="294" width="3" height="14" fill="#dc5b45"/><rect x="1111" y="304" width="1" height="26" fill="#737373"/><rect x="1109" y="308" width="5" height="16" fill="#5a1712"/><rect x="1110" y="309" width="3" height="14" fill="#dc5b45"/><rect x="1117" y="321" width="1" height="48" fill="#737373"/><rect x="1115" y="323" width="5" height="34" fill="#5a1712"/><rect x="1116" y="324" width="3" height="32" fill="#dc5b45"/><rect x="1124" y="355" width="1" height="42" fill="#737373"/><rect x="1122" y="356" width="5" height="28" fill="#5a1712"/><rect x="1123" y="357" width="3" height="26" fill="#dc5b45"/><rect x="1131" y="380" width="1" height="17" fill="#737373"/><rect x="1129" y="385" width="5" height="1" fill="#5a1712"/><rect x="1137" y="354" width="1" height="40" fill="#737373"/><rect x="1135" y="367" width="5" height="23" fill="#1f5a3a"/><rect x="1136" y="368" width="3" height="21" fill="#6fa583"/><rect x="1144" y="357" width="1" height="21" fill="#737373"/><rect x="1142" y="364" width="5" height="5" fill="#1f5a3a"/><rect x="1143" y="365" width="3" height="3" fill="#6fa583"/><rect x="1150" y="349" width="1" height="23" fill="#737373"/><rect x="1148" y="350" width="5" height="21" fill="#1f5a3a"/><rect x="1149" y="351" width="3" height="19" fill="#6fa583"/><rect x="1157" y="328" width="1" height="28" fill="#737373"/><rect x="1155" y="331" width="5" height="20" fill="#1f5a3a"/><rect x="1156" y="332" width="3" height="18" fill="#6fa583"/><rect x="1164" y="323" width="1" height="11" fill="#737373"/><rect x="1162" y="328" width="5" height="6" fill="#1f5a3a"/><rect x="1163" y="329" width="3" height="4" fill="#6fa583"/><rect x="1170" y="281" width="1" height="50" fill="#737373"/><rect x="1168" y="284" width="5" height="47" fill="#1f5a3a"/><rect x="1169" y="285" width="3" height="45" fill="#6fa583"/><rect x="1177" y="259" width="1" height="29" fill="#737373"/><rect x="1175" y="274" width="5" height="12" fill="#1f5a3a"/><rect x="1176" y="275" width="3" height="10" fill="#6fa583"/><rect x="1184" y="261" width="1" height="38" fill="#737373"/><rect x="1182" y="264" width="5" height="11" fill="#1f5a3a"/><rect x="1183" y="265" width="3" height="9" fill="#6fa583"/><rect x="1190" y="257" width="1" height="23" fill="#737373"/><rect x="1188" y="265" width="5" height="6" fill="#5a1712"/><rect x="1189" y="266" width="3" height="4" fill="#dc5b45"/><rect x="1197" y="266" width="1" height="12" fill="#737373"/><rect x="1195" y="270" width="5" height="4" fill="#1f5a3a"/><rect x="1196" y="271" width="3" height="2" fill="#6fa583"/><rect x="1204" y="265" width="1" height="10" fill="#737373"/><rect x="1202" y="266" width="5" height="5" fill="#1f5a3a"/><rect x="1203" y="267" width="3" height="3" fill="#6fa583"/><rect x="1210" y="255" width="1" height="25" fill="#737373"/><rect x="1208" y="267" width="5" height="6" fill="#5a1712"/><rect x="1209" y="268" width="3" height="4" fill="#dc5b45"/><rect x="1217" y="266" width="1" height="10" fill="#737373"/><rect x="1215" y="271" width="5" height="4" fill="#1f5a3a"/><rect x="1216" y="272" width="3" height="2" fill="#6fa583"/><rect x="1224" y="267" width="1" height="9" fill="#737373"/><rect x="1222" y="271" width="5" height="2" fill="#5a1712"/><rect x="1230" y="261" width="1" height="15" fill="#737373"/><rect x="1228" y="264" width="5" height="12" fill="#1f5a3a"/><rect x="1229" y="265" width="3" height="10" fill="#6fa583"/><rect x="1237" y="261" width="1" height="7" fill="#737373"/><rect x="1235" y="265" width="5" height="3" fill="#5a1712"/><rect x="1236" y="266" width="3" height="1" fill="#dc5b45"/><rect x="1244" y="256" width="1" height="12" fill="#737373"/><rect x="1242" y="262" width="5" height="6" fill="#1f5a3a"/><rect x="1243" y="263" width="3" height="4" fill="#6fa583"/><rect x="1250" y="261" width="1" height="16" fill="#737373"/><rect x="1248" y="264" width="5" height="8" fill="#5a1712"/><rect x="1249" y="265" width="3" height="6" fill="#dc5b45"/><rect x="1257" y="261" width="1" height="24" fill="#737373"/><rect x="1255" y="264" width="5" height="10" fill="#1f5a3a"/><rect x="1256" y="265" width="3" height="8" fill="#6fa583"/><rect x="1264" y="256" width="1" height="11" fill="#737373"/><rect x="1262" y="259" width="5" height="8" fill="#1f5a3a"/><rect x="1263" y="260" width="3" height="6" fill="#6fa583"/><rect x="1270" y="256" width="1" height="10" fill="#737373"/><rect x="1268" y="260" width="5" height="1" fill="#1f5a3a"/><rect x="1277" y="222" width="1" height="42" fill="#737373"/><rect x="1275" y="225" width="5" height="38" fill="#1f5a3a"/><rect x="1276" y="226" width="3" height="36" fill="#6fa583"/><rect x="1283" y="220" width="1" height="15" fill="#737373"/><rect x="1281" y="222" width="5" height="5" fill="#1f5a3a"/><rect x="1282" y="223" width="3" height="3" fill="#6fa583"/><rect x="1290" y="219" width="1" height="20" fill="#737373"/><rect x="1288" y="221" width="5" height="2" fill="#1f5a3a"/><rect x="1297" y="191" width="1" height="39" fill="#737373"/><rect x="1295" y="196" width="5" height="33" fill="#1f5a3a"/><rect x="1296" y="197" width="3" height="31" fill="#6fa583"/><rect x="1303" y="182" width="1" height="23" fill="#737373"/><rect x="1301" y="184" width="5" height="13" fill="#1f5a3a"/><rect x="1302" y="185" width="3" height="11" fill="#6fa583"/><rect x="1310" y="184" width="1" height="14" fill="#737373"/><rect x="1308" y="186" width="5" height="8" fill="#5a1712"/><rect x="1309" y="187" width="3" height="6" fill="#dc5b45"/><rect x="1317" y="185" width="1" height="19" fill="#737373"/><rect x="1315" y="186" width="5" height="10" fill="#1f5a3a"/><rect x="1316" y="187" width="3" height="8" fill="#6fa583"/><rect x="1323" y="185" width="1" height="28" fill="#737373"/><rect x="1321" y="186" width="5" height="1" fill="#1f5a3a"/><rect x="1330" y="181" width="1" height="11" fill="#737373"/><rect x="1328" y="181" width="5" height="8" fill="#1f5a3a"/><rect x="1329" y="182" width="3" height="6" fill="#6fa583"/><rect x="1337" y="180" width="1" height="8" fill="#737373"/><rect x="1335" y="181" width="5" height="1" fill="#1f5a3a"/><rect x="1343" y="167" width="1" height="17" fill="#737373"/><rect x="1341" y="168" width="5" height="16" fill="#1f5a3a"/><rect x="1342" y="169" width="3" height="14" fill="#6fa583"/><rect x="1350" y="157" width="1" height="15" fill="#737373"/><rect x="1348" y="160" width="5" height="12" fill="#1f5a3a"/><rect x="1349" y="161" width="3" height="10" fill="#6fa583"/><rect x="1357" y="88" width="1" height="90" fill="#737373"/><rect x="1355" y="92" width="5" height="72" fill="#1f5a3a"/><rect x="1356" y="93" width="3" height="70" fill="#6fa583"/><rect x="1363" y="42" width="1" height="147" fill="#737373"/><rect x="1361" y="104" width="5" height="39" fill="#5a1712"/><rect x="1362" y="105" width="3" height="37" fill="#dc5b45"/><rect x="1370" y="103" width="1" height="46" fill="#737373"/><rect x="1368" y="104" width="5" height="41" fill="#1f5a3a"/><rect x="1369" y="105" width="3" height="39" fill="#6fa583"/><rect x="1377" y="99" width="1" height="130" fill="#737373"/><rect x="1375" y="104" width="5" height="90" fill="#5a1712"/><rect x="1376" y="105" width="3" height="88" fill="#dc5b45"/><rect x="1383" y="143" width="1" height="84" fill="#737373"/><rect x="1381" y="192" width="5" height="21" fill="#5a1712"/><rect x="1382" y="193" width="3" height="19" fill="#dc5b45"/><rect x="1390" y="209" width="1" height="48" fill="#737373"/><rect x="1388" y="214" width="5" height="19" fill="#5a1712"/><rect x="1389" y="215" width="3" height="17" fill="#dc5b45"/></g>
<polyline points="0.1,686.8 7.1,684.9 14.1,684.6 20.1,684.2 27.1,684.4 33.1,684.2 40.1,681.9 47.1,682.7 53.1,683.9 60.1,684.1 67.1,680.8 73.1,676.3 80.1,675.0 87.1,675.7 93.1,676.5 100.1,675.7 107.1,676.2 113.1,677.5 120.1,678.6 127.1,680.6 133.1,680.3 140.1,682.4 146.1,683.6 153.1,685.1 160.1,685.5 166.1,686.3 173.1,687.1 180.1,687.0 186.1,687.8 193.1,687.4 200.1,687.1 206.1,687.9 213.1,689.8 220.1,688.4 226.1,689.0 233.1,689.7 240.1,687.9 246.1,690.0 253.1,689.0 260.1,690.1 266.1,691.0 273.1,690.5 279.1,688.6 286.1,689.7 293.1,690.9 299.1,692.5 306.1,693.8 313.1,695.8 319.1,697.4 326.1,697.6 333.1,697.1 339.1,697.2 346.1,697.8 353.1,699.0 359.1,699.3 366.1,700.4 373.1,700.2 379.1,701.1 386.1,695.7 392.1,696.8 399.1,697.3 406.1,696.7 412.1,697.1 419.1,697.3 426.1,697.5 432.1,697.9 439.1,699.5 446.1,700.7 452.1,700.1 459.1,701.3 466.1,702.8 472.1,704.1 479.1,705.0 486.1,705.4 492.1,706.0 499.1,705.4 506.1,704.9 512.1,704.2 519.1,699.0 525.1,698.8 532.1,698.4 539.1,697.5 545.1,698.0 552.1,698.6 559.1,699.0 565.1,699.9 572.1,701.3 579.1,701.7 585.1,699.7 592.1,698.4 599.1,697.9 605.1,696.2 612.1,693.9 619.1,692.8 625.1,691.1 632.1,692.0 639.1,693.6 645.1,693.5 652.1,692.2 658.1,691.9 665.1,690.5 672.1,689.0 678.1,688.9 685.1,689.9 692.1,691.4 698.1,679.2 705.1,675.9 712.1,675.3 718.1,675.6 725.1,670.7 732.1,670.0 738.1,671.7 745.1,673.1 752.1,670.2 758.1,672.5 765.1,672.9 771.1,675.1 778.1,677.8 785.1,678.4 791.1,678.1 798.1,679.1 805.1,679.3 811.1,678.0 818.1,676.7 825.1,674.9 831.1,675.9 838.1,676.8 845.1,676.8 851.1,677.1 858.1,678.0 865.1,678.8 871.1,678.2 878.1,678.2 885.1,680.4 891.1,681.6 898.1,683.5 904.1,682.6 911.1,681.6 918.1,683.0 924.1,684.4 931.1,685.1 938.1,686.4 944.1,684.7 951.1,685.0 958.1,682.2 964.1,684.2 971.1,685.2 978.1,686.9 984.1,686.1 991.1,688.0 998.1,689.9 1004.1,688.5 1011.1,690.5 1018.1,690.6 1024.1,691.4 1031.1,693.6 1037.1,694.5 1044.1,695.9 1051.1,696.7 1057.1,698.0 1064.1,699.0 1071.1,699.8 1077.1,700.9 1084.1,699.2 1091.1,699.4 1097.1,699.9 1104.1,700.1 1111.1,699.8 1117.1,697.3 1124.1,695.5 1131.1,696.5 1137.1,694.9 1144.1,695.6 1150.1,695.8 1157.1,695.6 1164.1,697.2 1170.1,694.6 1177.1,694.4 1184.1,693.3 1190.1,693.8 1197.1,695.3 1204.1,697.0 1210.1,697.0 1217.1,698.6 1224.1,700.2 1230.1,701.1 1237.1,702.6 1244.1,703.6 1250.1,704.0 1257.1,703.7 1264.1,704.7 1270.1,705.7 1277.1,703.4 1283.1,704.0 1290.1,704.1 1297.1,702.2 1303.1,702.0 1310.1,702.8 1317.1,703.0 1323.1,702.3 1330.1,703.3 1337.1,704.7 1343.1,705.0 1350.1,705.5 1357.1,698.2 1363.1,685.5 1370.1,684.2 1377.1,674.3 1383.1,669.9 1390.1,669.4" fill="none" stroke="#c23b3b" stroke-width="1.2" stroke-linejoin="round" stroke-linecap="butt" clip-path="url(#cp)" />
<polyline points="2.0,775.5 13.8,768.0 20.0,766.0 26.2,760.8 32.5,757.8 40.0,752.0 47.5,750.5 52.5,751.0 66.2,755.8 72.5,753.2 86.2,735.0 92.5,733.2 100.0,733.2 107.5,738.0 113.8,737.2 120.0,733.2 133.1,729.9 140.1,729.2 146.1,728.3 153.1,728.8 160.1,728.4 166.1,730.6 173.1,735.9 180.1,734.7 186.1,736.3 193.1,742.0 200.1,740.6 206.1,736.1 213.1,735.3 220.1,737.8 226.1,739.9 233.1,743.9 240.1,744.9 246.1,737.2 253.1,724.4 260.1,722.3 266.1,725.9 273.1,728.7 279.1,743.4 286.1,739.2 293.1,733.4 299.1,736.0 306.1,732.7 313.1,735.2 319.1,735.6 326.1,733.2 333.1,737.9 339.1,734.8 346.1,728.2 353.1,725.5 359.1,722.6 366.1,726.1 373.1,731.5 379.1,727.4 386.1,740.2 392.1,738.8 399.1,744.6 406.1,740.4 412.1,745.4 419.1,747.4 426.1,743.0 432.1,734.1 439.1,733.7 446.1,736.3 452.1,738.3 459.1,732.7 466.1,733.4 472.1,733.8 479.1,737.3 486.1,739.4 492.1,731.4 499.1,728.9 506.1,740.6 512.1,753.8 519.1,722.0 525.1,720.4 532.1,735.0 539.1,750.6 545.1,749.2 552.1,737.3 559.1,730.9 565.1,726.1 572.1,725.9 579.1,727.0 585.1,741.6 592.1,739.6 599.1,742.8 605.1,759.0 612.1,774.2 619.1,780.6 625.1,764.0 632.1,759.4 639.1,758.4 645.1,763.4 652.1,772.0 658.1,774.3 665.1,766.3 672.1,768.3 678.1,768.0 685.1,765.5 692.1,762.8 698.1,777.9 705.1,774.8 712.1,763.9 718.1,764.9 725.1,772.3 732.1,779.0 738.1,773.0 745.1,766.9 752.1,760.7 758.1,759.8 765.1,763.1 771.1,762.9 778.1,761.7 785.1,762.2 791.1,765.9 798.1,764.3 805.1,761.1 811.1,752.7 818.1,743.4 825.1,735.9 831.1,740.2 838.1,741.1 845.1,731.0 851.1,728.9 858.1,735.4 865.1,733.1 871.1,727.1 878.1,723.4 885.1,726.7 891.1,728.9 898.1,732.6 904.1,734.2 911.1,738.0 918.1,738.8 924.1,738.3 931.1,740.4 938.1,742.1 944.1,746.8 951.1,751.0 958.1,741.9 964.1,735.2 971.1,739.5 978.1,741.6 984.1,731.0 991.1,724.8 998.1,726.1 1004.1,714.9 1011.1,719.7 1018.1,730.7 1024.1,731.8 1031.1,735.5 1037.1,737.4 1044.1,737.8 1051.1,736.8 1057.1,737.1 1064.1,737.4 1071.1,739.8 1077.1,738.6 1084.1,746.8 1091.1,743.6 1097.1,742.9 1104.1,748.4 1111.1,764.5 1117.1,790.6 1124.1,797.3 1131.1,788.1 1137.1,773.0 1144.1,767.2 1150.1,761.8 1157.1,754.9 1164.1,751.1 1170.1,741.4 1177.1,734.1 1184.1,735.3 1190.1,734.3 1197.1,735.7 1204.1,735.7 1210.1,736.4 1217.1,738.1 1224.1,739.0 1230.1,738.5 1237.1,739.1 1244.1,739.5 1250.1,741.7 1257.1,742.4 1264.1,740.3 1270.1,740.5 1277.1,730.0 1283.1,719.8 1290.1,720.1 1297.1,714.2 1303.1,717.2 1310.1,725.0 1317.1,729.3 1323.1,733.2 1330.1,732.6 1337.1,734.1 1343.1,733.2 1350.1,732.5 1357.1,724.6 1363.1,728.5 1370.1,729.2 1377.1,743.2 1383.1,749.5 1390.1,762.2" fill="none" stroke="#2f6bff" stroke-width="1.15" stroke-linejoin="round" stroke-linecap="butt" clip-path="url(#cp)" />
<rect x="1465" y="2" width="1" height="829" fill="#4f4f4f"/>
<rect x="2" y="803" width="1523" height="1" fill="#4f4f4f"/>
<text x="1473.5" y="620.9" font-size="12.3" fill="#62646b" font-weight="normal" text-anchor="start" textLength="41.5" lengthAdjust="spacingAndGlyphs" >138.000</text>
<text x="1473.5" y="568.9" font-size="12.3" fill="#62646b" font-weight="normal" text-anchor="start" textLength="41.5" lengthAdjust="spacingAndGlyphs" >140.000</text>
<text x="1473.5" y="517.9" font-size="12.3" fill="#62646b" font-weight="normal" text-anchor="start" textLength="41.5" lengthAdjust="spacingAndGlyphs" >142.000</text>
<text x="1473.5" y="465.9" font-size="12.3" fill="#62646b" font-weight="normal" text-anchor="start" textLength="41.5" lengthAdjust="spacingAndGlyphs" >144.000</text>
<text x="1473.5" y="413.9" font-size="12.3" fill="#62646b" font-weight="normal" text-anchor="start" textLength="41.5" lengthAdjust="spacingAndGlyphs" >146.000</text>
<text x="1473.5" y="361.9" font-size="12.3" fill="#62646b" font-weight="normal" text-anchor="start" textLength="41.5" lengthAdjust="spacingAndGlyphs" >148.000</text>
<text x="1473.5" y="310.9" font-size="12.3" fill="#62646b" font-weight="normal" text-anchor="start" textLength="41.5" lengthAdjust="spacingAndGlyphs" >150.000</text>
<text x="1473.5" y="258.9" font-size="12.3" fill="#62646b" font-weight="normal" text-anchor="start" textLength="41.5" lengthAdjust="spacingAndGlyphs" >152.000</text>
<text x="1473.5" y="206.9" font-size="12.3" fill="#62646b" font-weight="normal" text-anchor="start" textLength="41.5" lengthAdjust="spacingAndGlyphs" >154.000</text>
<text x="1473.5" y="154.9" font-size="12.3" fill="#62646b" font-weight="normal" text-anchor="start" textLength="41.5" lengthAdjust="spacingAndGlyphs" >156.000</text>
<text x="1473.5" y="103.9" font-size="12.3" fill="#62646b" font-weight="normal" text-anchor="start" textLength="41.5" lengthAdjust="spacingAndGlyphs" >158.000</text>
<text x="1473.5" y="51.9" font-size="12.3" fill="#62646b" font-weight="normal" text-anchor="start" textLength="41.5" lengthAdjust="spacingAndGlyphs" >160.000</text>
<text x="1473.5" y="699.9" font-size="12" fill="#62646b" font-weight="normal" text-anchor="start" textLength="29.5" lengthAdjust="spacingAndGlyphs" >1.000</text>
<text x="1473.5" y="718.1" font-size="12" fill="#62646b" font-weight="normal" text-anchor="start" textLength="35.5" lengthAdjust="spacingAndGlyphs" >250.00</text>
<text x="1473.5" y="753.6" font-size="12.3" fill="#62646b" font-weight="normal" text-anchor="start" textLength="23" lengthAdjust="spacingAndGlyphs" >0.00</text>
<text x="1473.5" y="789.6" font-size="12.3" fill="#62646b" font-weight="normal" text-anchor="start" textLength="42.5" lengthAdjust="spacingAndGlyphs" >−250.00</text>
<path d="M1465 249h54a2 2 0 0 1 2 2v13a2 2 0 0 1 -2 2h-54z" fill="#000"/>
<text x="1473.5" y="261.7" font-size="12" fill="#fff" font-weight="bold" text-anchor="start" textLength="42" lengthAdjust="spacingAndGlyphs" >151.916</text>
<path d="M1465 390h54a2 2 0 0 1 2 2v13a2 2 0 0 1 -2 2h-54z" fill="#000"/>
<text x="1473.5" y="402.7" font-size="12" fill="#fff" font-weight="bold" text-anchor="start" textLength="42" lengthAdjust="spacingAndGlyphs" >146.474</text>
<path d="M1465 426h54a2 2 0 0 1 2 2v13a2 2 0 0 1 -2 2h-54z" fill="#000"/>
<text x="1473.5" y="438.7" font-size="12" fill="#fff" font-weight="bold" text-anchor="start" textLength="42" lengthAdjust="spacingAndGlyphs" >145.054</text>
<path d="M1465 550h54a2 2 0 0 1 2 2v13a2 2 0 0 1 -2 2h-54z" fill="#000"/>
<text x="1473.5" y="562.7" font-size="12" fill="#fff" font-weight="bold" text-anchor="start" textLength="42" lengthAdjust="spacingAndGlyphs" >140.286</text>
<path d="M1465 629h54a2 2 0 0 1 2 2v13a2 2 0 0 1 -2 2h-54z" fill="#000"/>
<text x="1473.5" y="641.7" font-size="12" fill="#fff" font-weight="bold" text-anchor="start" textLength="42" lengthAdjust="spacingAndGlyphs" >137.224</text>
<rect x="1470" y="6.5" width="50.5" height="25" rx="4" fill="#fff" stroke="#e0e3eb"/>
<text x="1473.4" y="23.2" font-size="12" fill="#131722" font-weight="normal" text-anchor="start" textLength="19.3" lengthAdjust="spacingAndGlyphs" >JPY</text>
<path d="M1510.6 18.2l2.7 2.7l2.7 -2.7" fill="none" stroke="#131722" stroke-width="1.25"/>
<text x="77.9" y="821.7" font-size="12.3" fill="#62646b" font-weight="normal" text-anchor="start" textLength="19.2" lengthAdjust="spacingAndGlyphs" >Aug</text>
<text x="230.9" y="821.7" font-size="12.3" fill="#62646b" font-weight="normal" text-anchor="start" textLength="19.2" lengthAdjust="spacingAndGlyphs" >Sep</text>
<text x="369.9" y="821.7" font-size="12.3" fill="#62646b" font-weight="normal" text-anchor="start" textLength="19.2" lengthAdjust="spacingAndGlyphs" >Oct</text>
<text x="515.9" y="821.7" font-size="12.3" fill="#62646b" font-weight="normal" text-anchor="start" textLength="19.2" lengthAdjust="spacingAndGlyphs" >Nov</text>
<text x="662.9" y="821.7" font-size="12.3" fill="#62646b" font-weight="normal" text-anchor="start" textLength="19.2" lengthAdjust="spacingAndGlyphs" >Dec</text>
<text x="791.9" y="821.7" font-size="12.3" fill="#444" font-weight="bold" text-anchor="start" textLength="27.2" lengthAdjust="spacingAndGlyphs" >2024</text>
<text x="941.9" y="821.7" font-size="12.3" fill="#62646b" font-weight="normal" text-anchor="start" textLength="19.2" lengthAdjust="spacingAndGlyphs" >Feb</text>
<text x="1081.9" y="821.7" font-size="12.3" fill="#62646b" font-weight="normal" text-anchor="start" textLength="19.2" lengthAdjust="spacingAndGlyphs" >Mar</text>
<text x="1220.9" y="821.7" font-size="12.3" fill="#62646b" font-weight="normal" text-anchor="start" textLength="19.2" lengthAdjust="spacingAndGlyphs" >Apr</text>
<text x="1367.2" y="821.7" font-size="12.3" fill="#62646b" font-weight="normal" text-anchor="start" textLength="20.5" lengthAdjust="spacingAndGlyphs" >May</text>
<g fill="none" stroke="#131722" stroke-width="1.2" stroke-linejoin="round"><path d="M1488.4 817.4l3.4 -6h7.2l3.4 6l-3.4 6h-7.2z"/><circle cx="1495.4" cy="817.4" r="2"/></g>
<rect x="8" y="8" width="362" height="22" fill="#fff" opacity="0.5"/>
<g><circle cx="23.3" cy="14.5" r="5.7" fill="#eef1f8"/><circle cx="23.3" cy="14.6" r="2.7" fill="#f0505e"/><circle cx="17" cy="20.9" r="7.1" fill="#fff"/><clipPath id="fl"><circle cx="17" cy="20.9" r="6.05"/></clipPath><g clip-path="url(#fl)"><rect x="10" y="14" width="14" height="14" fill="#fff"/><rect x="10" y="14" width="14" height="3.5" fill="#f0454f"/><rect x="10" y="19.7" width="14" height="2.1" fill="#f0454f"/><rect x="10" y="24" width="14" height="4" fill="#f0454f"/><rect x="10" y="14" width="8" height="7.8" fill="#2f80ed"/><g fill="#fff" opacity="0.85"><circle cx="12.6" cy="17.2" r="0.45"/><circle cx="14.6" cy="17.2" r="0.45"/><circle cx="16.6" cy="17.2" r="0.45"/><circle cx="12.6" cy="19" r="0.45"/><circle cx="14.6" cy="19" r="0.45"/><circle cx="16.6" cy="19" r="0.45"/><circle cx="12.6" cy="20.8" r="0.45"/><circle cx="14.6" cy="20.8" r="0.45"/><circle cx="16.6" cy="20.8" r="0.45"/></g></g></g>
<g><text x="33.5" y="23.7" font-size="16.2" fill="#555862" font-weight="normal" text-anchor="start" textLength="27.9" lengthAdjust="spacingAndGlyphs" >U.S.</text><text x="68.5" y="23.7" font-size="16.2" fill="#555862" font-weight="normal" text-anchor="start" textLength="41.7" lengthAdjust="spacingAndGlyphs" >Dollar</text><text x="116.4" y="23.7" font-size="16.2" fill="#555862" font-weight="normal" text-anchor="start" textLength="5.4" lengthAdjust="spacingAndGlyphs" >/</text><text x="128.6" y="23.7" font-size="16.2" fill="#555862" font-weight="normal" text-anchor="start" textLength="65.3" lengthAdjust="spacingAndGlyphs" >Japanese</text><text x="198.5" y="23.7" font-size="16.2" fill="#555862" font-weight="normal" text-anchor="start" textLength="24.5" lengthAdjust="spacingAndGlyphs" >Yen</text><text x="228.6" y="23.7" font-size="16.2" fill="#555862" font-weight="normal" text-anchor="start" textLength="2.6" lengthAdjust="spacingAndGlyphs" >·</text><text x="237.4" y="23.7" font-size="16.2" fill="#555862" font-weight="normal" text-anchor="start" textLength="15.5" lengthAdjust="spacingAndGlyphs" >1D</text><text x="258.4" y="23.7" font-size="16.2" fill="#555862" font-weight="normal" text-anchor="start" textLength="2.6" lengthAdjust="spacingAndGlyphs" >·</text><text x="267.2" y="23.7" font-size="16.2" fill="#555862" font-weight="normal" text-anchor="start" textLength="97.3" lengthAdjust="spacingAndGlyphs" >PEPPERSTONE</text></g>
<circle cx="389" cy="17.8" r="9" fill="#f0f0f3"/><rect x="384" y="16.1" width="10" height="3.4" rx="1.7" fill="#8b8e99"/>
<text x="414" y="22.7" font-size="13" textLength="54.5" lengthAdjust="spacingAndGlyphs"><tspan fill="#6a6d78">O</tspan><tspan fill="#7a3a36">153.575</tspan></text>
<text x="475.7" y="22.7" font-size="13" textLength="54.3" lengthAdjust="spacingAndGlyphs"><tspan fill="#6a6d78">H</tspan><tspan fill="#7a3a36">153.739</tspan></text>
<text x="536.6" y="22.7" font-size="13" textLength="52" lengthAdjust="spacingAndGlyphs"><tspan fill="#6a6d78">L</tspan><tspan fill="#7a3a36">151.861</tspan></text>
<text x="596" y="22.7" font-size="13" textLength="54" lengthAdjust="spacingAndGlyphs"><tspan fill="#6a6d78">C</tspan><tspan fill="#7a3a36">152.865</tspan></text>
<text x="657" y="22.7" font-size="13" fill="#7a3a36" font-weight="normal" text-anchor="start" textLength="37.5" lengthAdjust="spacingAndGlyphs" >−0.768</text>
<text x="700" y="22.7" font-size="13" fill="#7a3a36" font-weight="normal" text-anchor="start" textLength="47.8" lengthAdjust="spacingAndGlyphs" >(−0.50%)</text>
<rect x="8" y="33" width="158" height="26" fill="#fff" opacity="0.85"/>
<rect x="10.5" y="34.5" width="60" height="23" rx="4" fill="#fff" stroke="#f23645" stroke-width="1"/>
<text x="18.5" y="50.8" font-size="12.5" fill="#f23645" textLength="43.5" lengthAdjust="spacingAndGlyphs">152.86<tspan font-size="10.5" dy="-2.2">5</tspan></text>
<text x="78.8" y="50.8" font-size="12" fill="#333" font-weight="normal" text-anchor="start" textLength="14.5" lengthAdjust="spacingAndGlyphs" >0.1</text>
<rect x="102.5" y="34.5" width="60" height="23" rx="4" fill="#fff" stroke="#2962ff" stroke-width="1"/>
<text x="110.5" y="50.8" font-size="12.5" fill="#2962ff" textLength="43.5" lengthAdjust="spacingAndGlyphs">152.86<tspan font-size="10.5" dy="-2.2">6</tspan></text>
<rect x="8" y="66" width="562" height="17" fill="#fff" opacity="0.8"/>
<g><text x="10.9" y="78.8" font-size="12.2" fill="#555862" font-weight="normal" text-anchor="start" textLength="17.7" lengthAdjust="spacingAndGlyphs" >MA</text><text x="31.8" y="78.8" font-size="12.2" fill="#555862" font-weight="normal" text-anchor="start" textLength="38.6" lengthAdjust="spacingAndGlyphs" >Ribbon</text><text x="75" y="78.8" font-size="12.2" fill="#555862" font-weight="normal" text-anchor="start" textLength="23.2" lengthAdjust="spacingAndGlyphs" >SMA</text><text x="101.6" y="78.8" font-size="12.2" fill="#555862" font-weight="normal" text-anchor="start" textLength="29.1" lengthAdjust="spacingAndGlyphs" >close</text><text x="134.7" y="78.8" font-size="12.2" fill="#555862" font-weight="normal" text-anchor="start" textLength="13.3" lengthAdjust="spacingAndGlyphs" >20</text><text x="152.6" y="78.8" font-size="12.2" fill="#555862" font-weight="normal" text-anchor="start" textLength="23.2" lengthAdjust="spacingAndGlyphs" >SMA</text><text x="179.1" y="78.8" font-size="12.2" fill="#555862" font-weight="normal" text-anchor="start" textLength="29.1" lengthAdjust="spacingAndGlyphs" >close</text><text x="212.2" y="78.8" font-size="12.2" fill="#555862" font-weight="normal" text-anchor="start" textLength="13.5" lengthAdjust="spacingAndGlyphs" >50</text><text x="230.1" y="78.8" font-size="12.2" fill="#555862" font-weight="normal" text-anchor="start" textLength="22.9" lengthAdjust="spacingAndGlyphs" >SMA</text><text x="256.3" y="78.8" font-size="12.2" fill="#555862" font-weight="normal" text-anchor="start" textLength="29.0" lengthAdjust="spacingAndGlyphs" >close</text><text x="290.2" y="78.8" font-size="12.2" fill="#555862" font-weight="normal" text-anchor="start" textLength="20.0" lengthAdjust="spacingAndGlyphs" >100</text><text x="314.1" y="78.8" font-size="12.2" fill="#555862" font-weight="normal" text-anchor="start" textLength="23.1" lengthAdjust="spacingAndGlyphs" >SMA</text><text x="340.7" y="78.8" font-size="12.2" fill="#555862" font-weight="normal" text-anchor="start" textLength="28.8" lengthAdjust="spacingAndGlyphs" >close</text><text x="373.7" y="78.8" font-size="12.2" fill="#555862" font-weight="normal" text-anchor="start" textLength="20.4" lengthAdjust="spacingAndGlyphs" >200</text></g>
<text x="403" y="78.6" font-size="12.5" fill="#f23645" font-weight="normal" text-anchor="start" textLength="45" lengthAdjust="spacingAndGlyphs" >154.496</text>
<text x="454.8" y="78.6" font-size="12.5" fill="#2962ff" font-weight="normal" text-anchor="start" textLength="44.5" lengthAdjust="spacingAndGlyphs" >151.913</text>
<text x="506.8" y="78.6" font-size="12.5" fill="#555" font-weight="normal" text-anchor="start" textLength="7.5" lengthAdjust="spacingAndGlyphs" >Ø</text>
<text x="520.5" y="78.6" font-size="12.5" fill="#1a1a1a" font-weight="normal" text-anchor="start" textLength="44.5" lengthAdjust="spacingAndGlyphs" >148.400</text>
<rect x="11.5" y="88.5" width="28" height="20" rx="3" fill="#fff" stroke="#d1d4dc"/>
<path d="M21.5 100.5l4 -4l4 4" fill="none" stroke="#131722" stroke-width="1.3"/>
<rect x="8" y="673" width="114" height="20" fill="#fff" opacity="0.7"/>
<text x="11.5" y="687.6" font-size="12" fill="#555862" font-weight="normal" text-anchor="start" textLength="66.5" lengthAdjust="spacingAndGlyphs" >ATR 14 RMA</text>
<text x="86.8" y="687.6" font-size="12.5" fill="#c23b3b" font-weight="normal" text-anchor="start" textLength="31.5" lengthAdjust="spacingAndGlyphs" >1.715</text>
<rect x="8" y="716" width="157" height="20.5" fill="#fff" opacity="0.7"/>
<text x="11.5" y="730.3" font-size="12" fill="#555862" font-weight="normal" text-anchor="start" textLength="101" lengthAdjust="spacingAndGlyphs" >CCI 20 hlc3 SMA 5</text>
<text x="121.5" y="730.3" font-size="12.5" fill="#2962ff" font-weight="normal" text-anchor="start" textLength="38" lengthAdjust="spacingAndGlyphs" >−88.86</text>
<g fill="#131722"><path d="M14 774h12v14h-6v-8h-6z"/><circle cx="31" cy="777" r="2.6"/><path d="M37.5 774h6.5l-6 14h-6.5z"/></g>
<g font-family="'Liberation Sans', 'Noto Sans CJK SC', sans-serif"><g transform="translate(1276 789.5) skewX(-11.5) scale(1.06 1)"><text x="0 57 114 171" y="0" font-size="57" font-weight="900" fill="#fff" stroke="#fff" stroke-width="0.9" stroke-linejoin="miter" filter="url(#ws)">海马财经</text></g><text x="1293.6 1320.6 1347.1 1371.2 1392.0 1424.4 1450.4 1469.6 1495.4" y="827.1" font-family="'DejaVu Sans', 'Liberation Sans', sans-serif" font-size="31" font-weight="bold" font-style="italic" fill="#fff" stroke="#fff" stroke-width="0.3" filter="url(#ws2)">zzrt01.cn</text></g>
</svg>
</body></html>
